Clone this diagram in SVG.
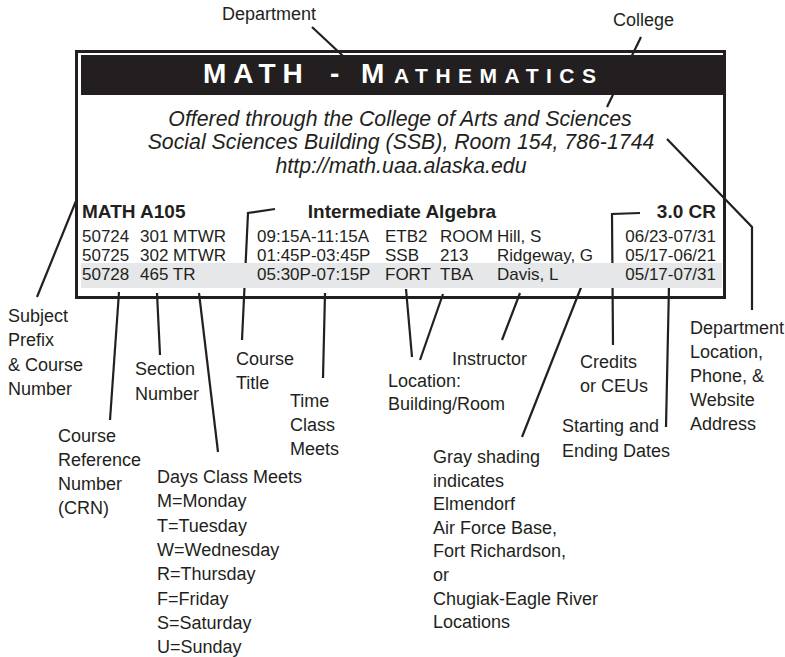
<svg xmlns="http://www.w3.org/2000/svg" width="785" height="657" viewBox="0 0 785 657">
<style>
text{font-family:"Liberation Sans",Arial,sans-serif;fill:#231f20}
.lbl{font-size:18px}
.row{font-size:17px}
.hdr{font-size:19px;font-weight:bold}
.it{font-size:21.3px;font-style:italic;text-anchor:middle}
.ttl{fill:#fff;font-weight:bold}
.ln{stroke:#231f20;stroke-width:2.2;fill:none}
</style>
<rect x="0" y="0" width="785" height="657" fill="#fff"/>
<g id="connectors">
<line class="ln" x1="312" y1="27" x2="343" y2="56"/>
<line class="ln" x1="641" y1="37" x2="607" y2="107"/>
<polyline class="ln" points="667,139 752,227 752,310"/>
<line class="ln" x1="76" y1="201" x2="37" y2="297"/>
<line class="ln" x1="119" y1="292" x2="110" y2="420"/>
<line class="ln" x1="157" y1="293" x2="160" y2="355"/>
<line class="ln" x1="199" y1="293" x2="218" y2="452"/>
<polyline class="ln" points="275,209 248,213 242,340"/>
<line class="ln" x1="325" y1="293" x2="323" y2="378"/>
<line class="ln" x1="406" y1="289" x2="412" y2="357"/>
<line class="ln" x1="443" y1="294" x2="420" y2="360"/>
<line class="ln" x1="520" y1="293" x2="502" y2="340"/>
<line class="ln" x1="582" y1="285" x2="522" y2="437"/>
<polyline class="ln" points="640,213 612,214 613,345"/>
<line class="ln" x1="669" y1="285" x2="666" y2="427"/>
</g>
<g id="listing">
<rect x="76.5" y="51.5" width="648" height="246" fill="none" stroke="#231f20" stroke-width="3"/>
<rect x="81" y="263" width="641" height="25" fill="#e6e7e8"/>
<rect x="81" y="55" width="642" height="40" fill="#231f20"/>
<text class="ttl" y="83" font-size="28" letter-spacing="7"><tspan x="203">MATH</tspan><tspan x="330">-</tspan><tspan x="361">M</tspan><tspan x="394" font-size="21" letter-spacing="7.5">ATHEMATICS</tspan></text>
<text class="it" x="400" y="126">Offered through the College of Arts and Sciences</text>
<text class="it" x="401" y="149">Social Sciences Building (SSB), Room 154, 786-1744</text>
<text class="it" x="401" y="173">http://math.uaa.alaska.edu</text>
<text class="hdr" x="82" y="218">MATH A105</text>
<text class="hdr" x="402" y="218" text-anchor="middle">Intermediate Algebra</text>
<text class="hdr" x="716" y="218" text-anchor="end">3.0 CR</text>
<g>
<text class="row" x="82" y="242">50724</text><text class="row" x="140" y="242">301 MTWR</text><text class="row" x="257" y="242">09:15A-11:15A</text><text class="row" x="385" y="242">ETB2</text><text class="row" x="440" y="242">ROOM</text><text class="row" x="497" y="242">Hill, S</text><text class="row" x="716" y="242" text-anchor="end">06/23-07/31</text>
<text class="row" x="82" y="261">50725</text><text class="row" x="140" y="261">302 MTWR</text><text class="row" x="257" y="261">01:45P-03:45P</text><text class="row" x="385" y="261">SSB</text><text class="row" x="440" y="261">213</text><text class="row" x="497" y="261">Ridgeway, G</text><text class="row" x="716" y="261" text-anchor="end">05/17-06/21</text>
<text class="row" x="82" y="280">50728</text><text class="row" x="140" y="280">465 TR</text><text class="row" x="257" y="280">05:30P-07:15P</text><text class="row" x="385" y="280">FORT</text><text class="row" x="440" y="280">TBA</text><text class="row" x="497" y="280">Davis, L</text><text class="row" x="716" y="280" text-anchor="end">05/17-07/31</text>
</g>
</g>
<g id="department"><text class="lbl" x="222" y="20">Department</text></g>
<g id="college"><text class="lbl" x="613" y="26">College</text></g>
<g id="dept-location"><text class="lbl"><tspan x="690" y="334">Department</tspan><tspan x="690" y="358">Location,</tspan><tspan x="690" y="382">Phone, &amp;</tspan><tspan x="690" y="406">Website</tspan><tspan x="690" y="430">Address</tspan></text></g>
<g id="subject-prefix"><text class="lbl"><tspan x="8" y="322">Subject</tspan><tspan x="8" y="346">Prefix</tspan><tspan x="8" y="371">&amp; Course</tspan><tspan x="8" y="395">Number</tspan></text></g>
<g id="crn"><text class="lbl"><tspan x="58" y="442">Course</tspan><tspan x="58" y="466">Reference</tspan><tspan x="58" y="490">Number</tspan><tspan x="58" y="514">(CRN)</tspan></text></g>
<g id="section"><text class="lbl"><tspan x="135" y="375">Section</tspan><tspan x="135" y="400">Number</tspan></text></g>
<g id="days"><text class="lbl"><tspan x="157" y="483">Days Class Meets</tspan><tspan x="157" y="507">M=Monday</tspan><tspan x="157" y="532">T=Tuesday</tspan><tspan x="157" y="556">W=Wednesday</tspan><tspan x="157" y="580">R=Thursday</tspan><tspan x="157" y="605">F=Friday</tspan><tspan x="157" y="629">S=Saturday</tspan><tspan x="157" y="653">U=Sunday</tspan></text></g>
<g id="course-title"><text class="lbl"><tspan x="236" y="365">Course</tspan><tspan x="236" y="389">Title</tspan></text></g>
<g id="time"><text class="lbl"><tspan x="290" y="407">Time</tspan><tspan x="290" y="431">Class</tspan><tspan x="290" y="455">Meets</tspan></text></g>
<g id="location"><text class="lbl"><tspan x="388" y="387">Location:</tspan><tspan x="388" y="410">Building/Room</tspan></text></g>
<g id="instructor"><text class="lbl" x="452" y="365">Instructor</text></g>
<g id="gray-shading"><text class="lbl"><tspan x="433" y="463">Gray shading</tspan><tspan x="433" y="487">indicates</tspan><tspan x="433" y="510">Elmendorf</tspan><tspan x="433" y="534">Air Force Base,</tspan><tspan x="433" y="557">Fort Richardson,</tspan><tspan x="433" y="581">or</tspan><tspan x="433" y="605">Chugiak-Eagle River</tspan><tspan x="433" y="628">Locations</tspan></text></g>
<g id="credits"><text class="lbl"><tspan x="580" y="368">Credits</tspan><tspan x="580" y="392">or CEUs</tspan></text></g>
<g id="dates"><text class="lbl"><tspan x="562" y="432">Starting and</tspan><tspan x="562" y="457">Ending Dates</tspan></text></g>
</svg>
